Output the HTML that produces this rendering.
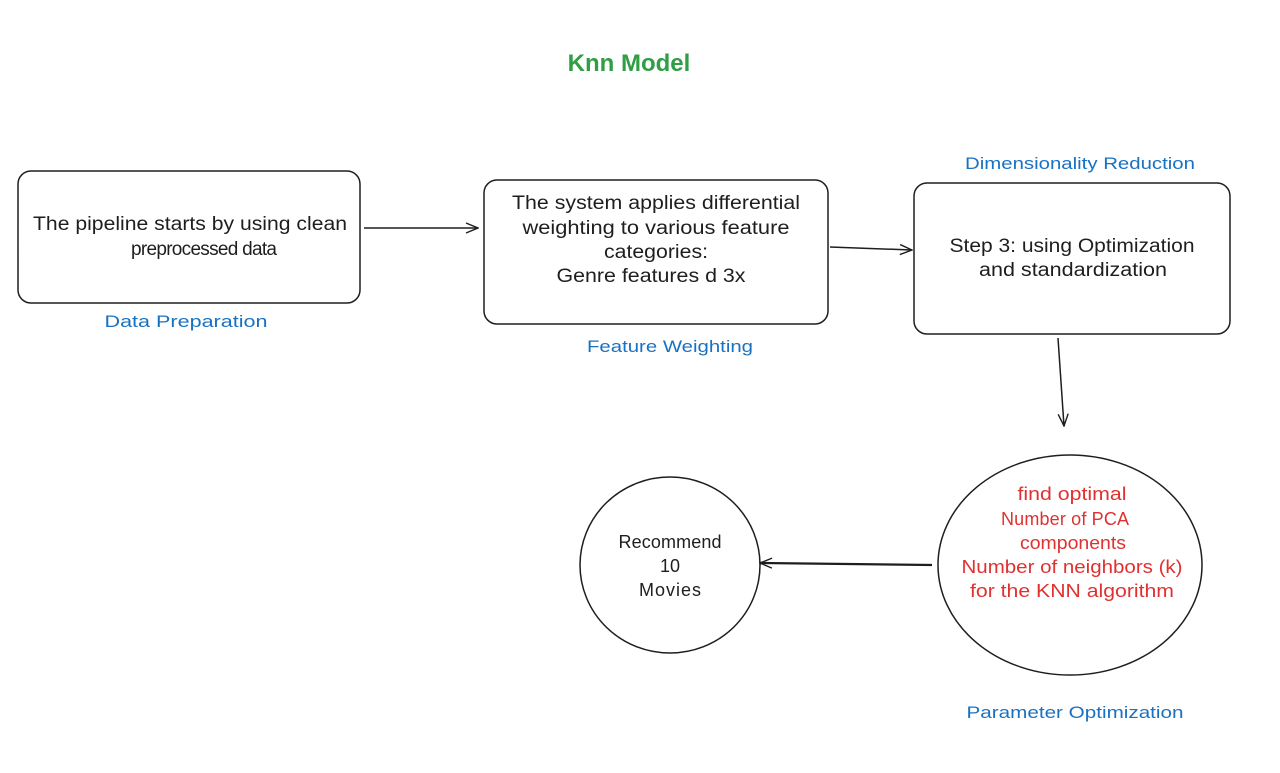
<!DOCTYPE html>
<html><head><meta charset="utf-8"><style>
html,body{margin:0;padding:0;background:#fff;}
svg{display:block;}
text{font-family:"Liberation Sans",sans-serif;}
</style></head><body>
<svg width="1280" height="773" viewBox="0 0 1280 773" xmlns="http://www.w3.org/2000/svg">
<defs>
<marker id="ah" markerWidth="14" markerHeight="12" refX="13" refY="6" orient="auto" markerUnits="userSpaceOnUse">
<path d="M1,1 L13,6 L1,11" fill="none" stroke="#1e1e1e" stroke-width="1.4"/>
</marker>
</defs>
<text x="629" y="71" text-anchor="middle" font-size="24" font-weight="bold" fill="#2f9e44">Knn Model</text>

<rect x="18" y="171" width="342" height="132" rx="13" fill="none" stroke="#1e1e1e" stroke-width="1.5"/>
<g font-size="19" fill="#1e1e1e" text-anchor="middle">
<text x="190" y="230" textLength="314" lengthAdjust="spacingAndGlyphs">The pipeline starts by using clean</text>
<text x="204" y="255" textLength="146">preprocessed data</text>
</g>
<text x="186" y="327" text-anchor="middle" font-size="17" fill="#1971c2" textLength="163" lengthAdjust="spacingAndGlyphs">Data Preparation</text>
<line x1="364" y1="228" x2="478" y2="228" stroke="#1e1e1e" stroke-width="1.5" marker-end="url(#ah)"/>

<rect x="484" y="180" width="344" height="144" rx="13" fill="none" stroke="#1e1e1e" stroke-width="1.5"/>
<g font-size="19" fill="#1e1e1e" text-anchor="middle">
<text x="656" y="209" textLength="288" lengthAdjust="spacingAndGlyphs">The system applies differential</text>
<text x="656" y="234" textLength="267" lengthAdjust="spacingAndGlyphs">weighting to various feature</text>
<text x="656" y="258" textLength="104" lengthAdjust="spacingAndGlyphs">categories:</text>
<text x="651" y="282" textLength="189" lengthAdjust="spacingAndGlyphs">Genre features d 3x</text>
</g>
<text x="670" y="352" text-anchor="middle" font-size="17" fill="#1971c2" textLength="166" lengthAdjust="spacingAndGlyphs">Feature Weighting</text>
<line x1="830" y1="247" x2="912" y2="250" stroke="#1e1e1e" stroke-width="1.5" marker-end="url(#ah)"/>

<text x="1080" y="169" text-anchor="middle" font-size="17" fill="#1971c2" textLength="230" lengthAdjust="spacingAndGlyphs">Dimensionality Reduction</text>
<rect x="914" y="183" width="316" height="151" rx="13" fill="none" stroke="#1e1e1e" stroke-width="1.5"/>
<g font-size="19" fill="#1e1e1e" text-anchor="middle">
<text x="1072" y="252" textLength="245" lengthAdjust="spacingAndGlyphs">Step 3: using Optimization</text>
<text x="1073" y="276" textLength="188" lengthAdjust="spacingAndGlyphs">and standardization</text>
</g>
<line x1="1058" y1="338" x2="1064" y2="426" stroke="#1e1e1e" stroke-width="1.5" marker-end="url(#ah)"/>

<ellipse cx="1070" cy="565" rx="132" ry="110" fill="none" stroke="#1e1e1e" stroke-width="1.5"/>
<g font-size="18" fill="#e03131" text-anchor="middle">
<text x="1072" y="500" textLength="109" lengthAdjust="spacingAndGlyphs">find optimal</text>
<text x="1065" y="525" textLength="128">Number of PCA</text>
<text x="1073" y="549" textLength="106" lengthAdjust="spacingAndGlyphs">components</text>
<text x="1072" y="573" textLength="221" lengthAdjust="spacingAndGlyphs">Number of neighbors (k)</text>
<text x="1072" y="597" textLength="204" lengthAdjust="spacingAndGlyphs">for the KNN algorithm</text>
</g>
<text x="1075" y="718" text-anchor="middle" font-size="17" fill="#1971c2" textLength="217" lengthAdjust="spacingAndGlyphs">Parameter Optimization</text>

<line x1="932" y1="565" x2="760" y2="563" stroke="#1e1e1e" stroke-width="2.2" marker-end="url(#ah)"/>

<ellipse cx="670" cy="565" rx="90" ry="88" fill="none" stroke="#1e1e1e" stroke-width="1.5"/>
<g font-size="18" fill="#1e1e1e" text-anchor="middle">
<text x="670" y="548" textLength="103">Recommend</text>
<text x="670" y="572">10</text>
<text x="670" y="596" textLength="62">Movies</text>
</g>
</svg>
</body></html>
